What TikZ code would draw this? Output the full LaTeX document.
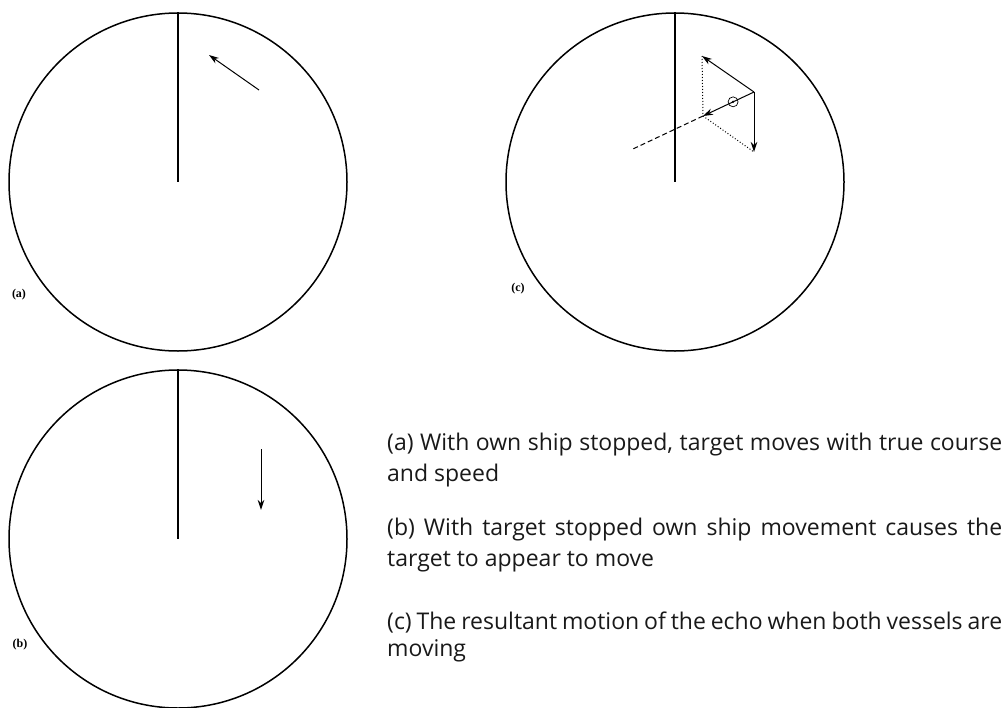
\documentclass[tikz,border=0pt]{standalone}
\usepackage{fontspec}
\setmainfont{Open Sans}
\newfontfamily\tagfont{Liberation Serif}
\usetikzlibrary{arrows.meta,calc}
\newcommand{\fullline}[1]{\makebox[615pt][s]{#1}}
\begin{document}
\begin{tikzpicture}[x=1pt,y=-1pt,>={Stealth[length=10pt,width=6.5pt]},
  dial/.style={draw,circle,line width=1.5pt,minimum size=338pt,inner sep=0pt},
  hdg/.style={line width=1.6pt}, vec/.style={->,line width=1pt},
  tag/.style={font=\tagfont\bfseries\fontsize{12}{12}\selectfont,inner sep=0pt},
  note/.style={anchor=base west,inner sep=0pt,font=\fontsize{23}{30}\selectfont,text=black!90}]
  \useasboundingbox (0,0) rectangle (1004,707);
  % three plots
  \node[dial](ca) at (178,182){};
  \node[dial](cb) at (178,539){};
  \node[dial](cc) at (675,182){};
  \foreach \c in {ca,cb,cc}{\draw[hdg](\c.north)--(\c.center);}
  \node[tag](ta) at (19,295){(a)};
  \node[tag](tb) at (20,645){(b)};
  \node[tag](tc) at (518,289){(c)};
  % (a) true motion
  \coordinate(a0) at (259,90); \coordinate(a1) at (209,55);
  \draw[vec](a0)--(a1);
  % (b) own ship motion
  \coordinate(b0) at (261,449); \coordinate(b1) at (261,510);
  \draw[vec](b0)--(b1);
  % (c) resultant
  \coordinate(p) at (754,92); \coordinate(t) at (702,56);
  \coordinate(o) at (754,152); \coordinate(r) at (703,116);
  \draw[vec](p)--(t); \draw[vec](p)--(o); \draw[vec](p)--(r);
  \draw[line width=1pt,dash pattern=on 5pt off 3pt](r)--($(r)!-1.4!(p)$) coordinate(e);
  \draw[dotted,line width=1pt](t)--(r);
  \draw[dotted,line width=1pt](r)--(o);
  \node[draw,circle,minimum size=10pt,inner sep=0pt,line width=0.7pt](echo) at ($(p)!0.41!(r)$){};
  \fill (echo.center) circle (1.3pt);
  % captions
  \node[note](l1) at (387,450){\fullline{(a) With own ship stopped, target moves with true course}};
  \node[note](l2) at (387,481){and speed};
  \node[note](l3) at (387,535){\fullline{(b) With target stopped own ship movement causes the}};
  \node[note](l4) at (387,566){target to appear to move};
  \node[note](l5) at (387,629){\fullline{(c) The resultant motion of the echo when both vessels are}};
  \node[note](l6) at (387,656){moving};
\end{tikzpicture}
\end{document}
